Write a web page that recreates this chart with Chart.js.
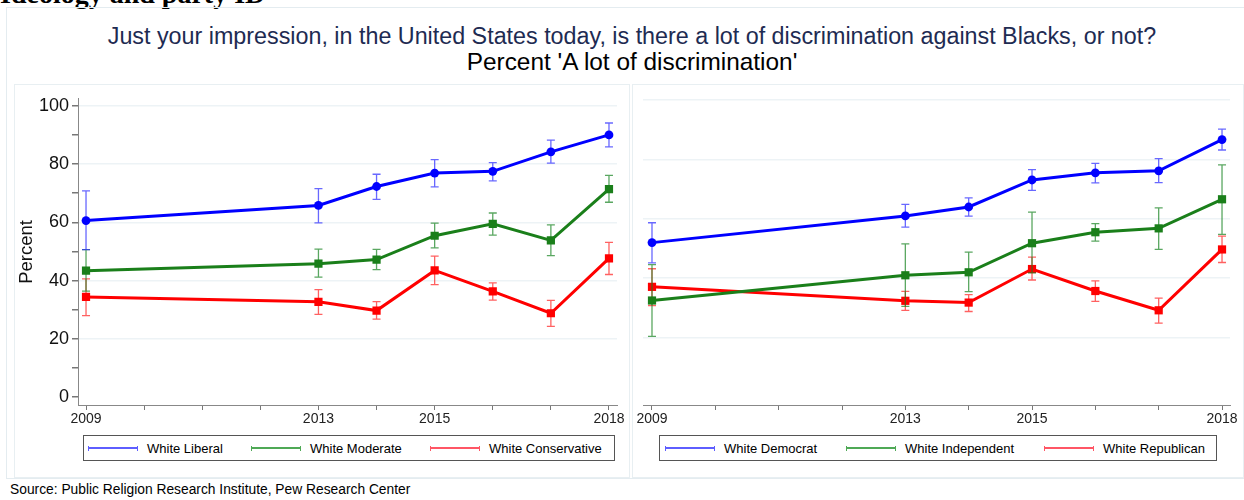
<!DOCTYPE html>
<html>
<head>
<meta charset="utf-8">
<script src="https://cdn.jsdelivr.net/npm/chart.js@4.4.1/dist/chart.umd.min.js"></script>
<style>
  body { margin: 0; background: #fff; font-family: "Liberation Sans", Arial, sans-serif; }
  #page { position: relative; width: 1244px; height: 500px; overflow: hidden; }
  .heading { position: absolute; left: 0; top: -20px; line-height: 28px; font: bold 28px/28px "Liberation Serif", serif; color: #000; white-space: nowrap; }
  .frame { position: absolute; left: 6px; top: 7px; width: 1250px; height: 470px; border: 1px solid #e4ecf0; }
  .panel { position: absolute; top: 84px; height: 392px; border: 1px solid #e8eff2; }
  .title { position: absolute; left: 0; width: 1264px; text-align: center; white-space: nowrap; }
  #t1 { top: 23px; font-size: 23.3px; color: #1e2b52; }
  #t2 { top: 48px; font-size: 24.4px; color: #000; }
  canvas { position: absolute; }
  .legend { position: absolute; top: 435px; height: 24px; border: 1px solid #555; font-size: 13px; color: #000; white-space: nowrap; }
  .item { position: absolute; top: 0; height: 24px; display: flex; align-items: center; }
  .sample { position: relative; width: 48px; height: 5px; border-left: 1.5px solid; border-right: 1.5px solid; margin-right: 9px; }
  .sample::after { content: ''; position: absolute; left: 0; right: 0; top: 1.5px; height: 2px; background: currentColor; }
  .source { position: absolute; left: 10px; top: 482px; font-size: 13.8px; color: #000; white-space: nowrap; }
</style>
</head>
<body>
<div id="page">
  <div class="heading">Ideology and party ID</div>
  <div class="frame"></div>
  <div class="panel" style="left:14px;width:614px"></div>
  <div class="panel" style="left:632px;width:610px"></div>
  <div class="title" id="t1">Just your impression, in the United States today, is there a lot of discrimination against Blacks, or not?</div>
  <div class="title" id="t2">Percent 'A lot of discrimination'</div>
  <canvas id="left" width="614" height="340" style="left:14px;top:85px"></canvas>
  <canvas id="right" width="608" height="340" style="left:632px;top:85px"></canvas>
  <div class="legend" style="left:83px;width:530px">
    <div class="item" style="left:4px"><span class="sample" style="color:rgba(40,40,255,0.75)"></span>White Liberal</div>
    <div class="item" style="left:167px"><span class="sample" style="color:rgba(20,140,30,0.75)"></span>White Moderate</div>
    <div class="item" style="left:346px"><span class="sample" style="color:rgba(255,30,50,0.75)"></span>White Conservative</div>
  </div>
  <div class="legend" style="left:659px;width:556px">
    <div class="item" style="left:5px"><span class="sample" style="color:rgba(40,40,255,0.75)"></span>White Democrat</div>
    <div class="item" style="left:186px"><span class="sample" style="color:rgba(20,140,30,0.75)"></span>White Independent</div>
    <div class="item" style="left:384px"><span class="sample" style="color:rgba(255,30,50,0.75)"></span>White Republican</div>
  </div>
  <div class="source">Source: Public Religion Research Institute, Pew Research Center</div>
</div>
<script>
const years = [2009, 2013, 2014, 2015, 2016, 2017, 2018];
const labeledYears = [2009, 2013, 2015, 2018];

// ideology panel
const liberal = [60.6, 65.8, 72.3, 76.9, 77.5, 84.2, 90.0];
const liberalLo = [50.6, 59.8, 67.9, 72.2, 74.2, 80.3, 85.9];
const liberalHi = [70.8, 71.6, 76.5, 81.5, 80.5, 88.2, 94.1];
const moderate = [43.4, 45.8, 47.2, 55.4, 59.5, 53.8, 71.4];
const moderateLo = [36.4, 41.2, 43.8, 51.2, 55.6, 48.6, 66.9];
const moderateHi = [50.6, 50.8, 50.7, 59.7, 63.2, 59.1, 76.1];
const conservative = [34.4, 32.7, 29.7, 43.5, 36.3, 28.8, 47.6];
const conservativeLo = [28.0, 28.4, 26.8, 38.6, 33.3, 24.3, 42.1];
const conservativeHi = [40.6, 36.9, 32.8, 48.4, 39.2, 33.2, 53.1];

// party panel
const democrat = [52.0, 61.0, 64.0, 73.1, 75.5, 76.2, 86.7];
const democratLo = [45.2, 57.2, 60.9, 69.6, 72.1, 72.2, 83.2];
const democratHi = [58.7, 64.9, 67.1, 76.6, 78.7, 80.3, 90.2];
const independent = [32.5, 41.0, 42.0, 51.8, 55.5, 56.8, 66.6];
const independentLo = [20.4, 30.5, 35.5, 41.8, 52.5, 49.7, 54.8];
const independentHi = [44.6, 51.6, 48.8, 62.3, 58.4, 63.7, 78.2];
const republican = [37.1, 32.4, 31.8, 43.1, 35.7, 29.2, 49.7];
const republicanLo = [30.8, 29.2, 28.8, 39.4, 32.2, 24.9, 45.3];
const republicanHi = [43.2, 35.6, 34.5, 47.1, 39.1, 33.3, 54.2];

const BLUE = "#0000ff", GREEN = "#1a7f1a", RED = "#ff0000";
const BLUE_ERR = "rgba(40,40,255,0.7)", GREEN_ERR = "rgba(20,130,30,0.7)", RED_ERR = "rgba(255,30,30,0.7)";

function series(label, vals, lo, hi, color, errColor, shape) {
  return {
    label,
    data: years.map((y, i) => ({ x: y, y: vals[i] })),
    lo, hi, errColor,
    borderColor: color,
    backgroundColor: color,
    borderWidth: 3,
    pointStyle: shape,
    pointRadius: shape === "rect" ? 5.8 : 4.4,
    pointBorderWidth: 0,
    tension: 0
  };
}

// vertical error bars with caps, drawn under each series
const errorBars = {
  id: "errorBars",
  beforeDatasetDraw(chart, args) {
    const ds = chart.data.datasets[args.index];
    const xs = chart.scales.x, ys = chart.scales.y;
    const ctx = chart.ctx;
    ctx.save();
    ctx.strokeStyle = ds.errColor;
    ctx.lineWidth = 1.3;
    years.forEach((yr, i) => {
      const px = xs.getPixelForValue(yr);
      const top = ys.getPixelForValue(ds.hi[i]);
      const bot = ys.getPixelForValue(ds.lo[i]);
      ctx.beginPath();
      ctx.moveTo(px, top); ctx.lineTo(px, bot);
      ctx.moveTo(px - 4, top); ctx.lineTo(px + 4, top);
      ctx.moveTo(px - 4, bot); ctx.lineTo(px + 4, bot);
      ctx.stroke();
    });
    ctx.restore();
  }
};

function makeChart(id, datasets, xPad, showY, yWidth, rightPad) {
  return new Chart(document.getElementById(id), {
    type: "line",
    data: { datasets },
    plugins: [errorBars],
    options: {
      responsive: false,
      animation: false,
      layout: { padding: { top: 8, right: rightPad, bottom: 0, left: 0 } },
      plugins: { legend: { display: false }, tooltip: { enabled: false } },
      scales: {
        x: {
          type: "linear",
          min: 2009 - xPad[0],
          max: 2018 + xPad[1],
          afterBuildTicks: s => { s.ticks = years.concat([2010, 2011, 2012]).sort().map(v => ({ value: v })); },
          afterFit: s => { s.height = 20; },
          ticks: {
            autoSkip: false,
            maxRotation: 0,
            padding: 1,
            color: "#222",
            font: { family: "Liberation Sans", size: 14 },
            callback: v => labeledYears.includes(v) ? String(v) : ""
          },
          grid: { drawOnChartArea: false, tickLength: 5, tickColor: "#777" },
          border: { color: "#888", width: 1 }
        },
        y: {
          min: -2.7,
          max: 102.4,
          afterBuildTicks: s => { s.ticks = [0, 10, 20, 30, 40, 50, 60, 70, 80, 90, 100].map(v => ({ value: v })); },
          afterFit: s => { s.width = yWidth; },
          ticks: {
            display: showY,
            padding: 3,
            color: "#111",
            font: { family: "Liberation Sans", size: 18 },
            callback: v => v % 20 === 0 ? String(v) : ""
          },
          title: {
            display: showY,
            text: "Percent",
            color: "#111",
            padding: { top: 2, bottom: 0 },
            font: { family: "Liberation Sans", size: 18.5 }
          },
          grid: {
            color: c => (c.tick && c.tick.value % 20 === 0 && c.tick.value > 0) ? "#edf3f6" : "rgba(0,0,0,0)",
            lineWidth: 1.5,
            drawTicks: showY,
            tickLength: 6,
            tickColor: "#777"
          },
          border: { display: showY, color: "#888", width: 1 }
        }
      }
    }
  });
}

makeChart("left", [
  series("White Liberal", liberal, liberalLo, liberalHi, BLUE, BLUE_ERR, "circle"),
  series("White Moderate", moderate, moderateLo, moderateHi, GREEN, GREEN_ERR, "rect"),
  series("White Conservative", conservative, conservativeLo, conservativeHi, RED, RED_ERR, "rect")
], [0.138, 0.138], true, 64, 11);

makeChart("right", [
  series("White Democrat", democrat, democratLo, democratHi, BLUE, BLUE_ERR, "circle"),
  series("White Independent", independent, independentLo, independentHi, GREEN, GREEN_ERR, "rect"),
  series("White Republican", republican, republicanLo, republicanHi, RED, RED_ERR, "rect")
], [0.142, 0.126], false, 11, 10);
</script>
</body>
</html>
